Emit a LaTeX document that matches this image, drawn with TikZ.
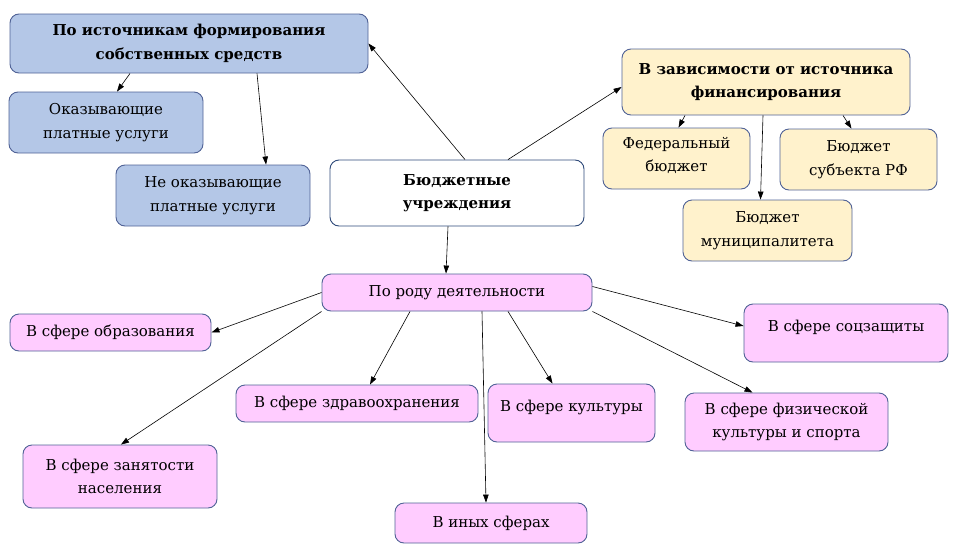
\documentclass[tikz,border=0pt]{standalone}
\usepackage{fontspec}
\setmainfont{DejaVu Serif}
\newfontfamily\boxfont{DejaVu Serif}
\usetikzlibrary{arrows.meta}

\definecolor{blueFill}{RGB}{180,199,231}
\definecolor{yellowFill}{RGB}{255,242,204}
\definecolor{pinkFill}{RGB}{255,204,255}
\definecolor{boxLine}{RGB}{80,98,150}

\tikzset{
  box/.style={draw=boxLine,line width=0.9pt,rounded corners=9pt,align=center,
    inner sep=0pt,font=\boxfont\fontsize{15}{23.5}\selectfont},
  boldbox/.style={font=\boxfont\bfseries\fontsize{15}{23.5}\selectfont},
  bluebox/.style={box,fill=blueFill},
  yellowbox/.style={box,fill=yellowFill},
  pinkbox/.style={box,fill=pinkFill},
  whitebox/.style={box,fill=white,draw={rgb,255:red,47;green,74;blue,122}},
}

\begin{document}
\begin{tikzpicture}[x=1pt,y=-1pt,>={Triangle[length=8pt,width=5.5pt]},line width=0.6pt]
   \useasboundingbox (0,0) rectangle (959,552);
   % upper part
   \node[bluebox,boldbox,minimum width=358,minimum height=59] (src) at (189,43.5) {По источникам формирования\\собственных средств};
   \node[bluebox,minimum width=194,minimum height=61] (paid) at (106,122.5) {Оказывающие\\платные услуги};
   \node[bluebox,minimum width=194,minimum height=61] (notpaid) at (213,195.5) {Не оказывающие\\платные услуги};
   \node[whitebox,boldbox,minimum width=254,minimum height=66] (main) at (457,193) {Бюджетные\\учреждения};
   \node[yellowbox,boldbox,minimum width=288,minimum height=66] (fin) at (766,82) {В зависимости от источника\\финансирования};
   \node[yellowbox,minimum width=147,minimum height=61,text depth=8pt] (fed) at (676.5,158.5) {Федеральный\\бюджет};
   \node[yellowbox,minimum width=157,minimum height=61] (subj) at (858.5,159.5) {Бюджет\\субъекта РФ};
   \node[yellowbox,minimum width=169,minimum height=61] (mun) at (767.5,230.5) {Бюджет\\муниципалитета};
   % lower part
   \node[pinkbox,minimum width=270,minimum height=37] (act) at (457,292.5) {По роду деятельности};
   \node[pinkbox,minimum width=201,minimum height=37] (edu) at (110.5,332.5) {В сфере образования};
   \node[pinkbox,minimum width=242,minimum height=37] (health) at (357,403.5) {В сфере здравоохранения};
   \node[pinkbox,minimum width=167,minimum height=58,text depth=14pt] (cult) at (571.5,413) {В сфере культуры};
   \node[pinkbox,minimum width=204,minimum height=58,text depth=14pt] (soc) at (846,333) {В сфере соцзащиты};
   \node[pinkbox,minimum width=203,minimum height=58] (sport) at (786.5,422) {В сфере физической\\культуры и спорта};
   \node[pinkbox,minimum width=194,minimum height=63] (empl) at (120,476.5) {В сфере занятости\\населения};
   \node[pinkbox,minimum width=192,minimum height=40] (other) at (491,523) {В иных сферах};

   \path[->]
   ([xshift=8]main.north) edge (src.east)
   ([xshift=51]main.north) edge ([yshift=-5]fin.west)
   ([xshift=-9]main.south) edge ([xshift=-11]act.north)
   ([xshift=-59]src.south) edge ([xshift=11]paid.north)
   ([xshift=68]src.south) edge ([xshift=53]notpaid.north)
   ([xshift=-81]fin.south) edge ([xshift=2]fed.north)
   ([xshift=-3]fin.south) edge ([xshift=-7]mun.north)
   ([xshift=77]fin.south) edge ([xshift=-7]subj.north)
   (act.west) edge (edu.east)
   (act.south west) edge ([xshift=1]empl.north)
   ([xshift=-47]act.south) edge ([xshift=13]health.north)
   ([xshift=25]act.south) edge ([xshift=-5]other.north)
   ([xshift=51]act.south) edge ([xshift=-19]cult.north)
   ([yshift=6]act.east) edge ([yshift=7]soc.west)
   (act.south east) edge ([xshift=-34]sport.north);
\end{tikzpicture}
\end{document}
